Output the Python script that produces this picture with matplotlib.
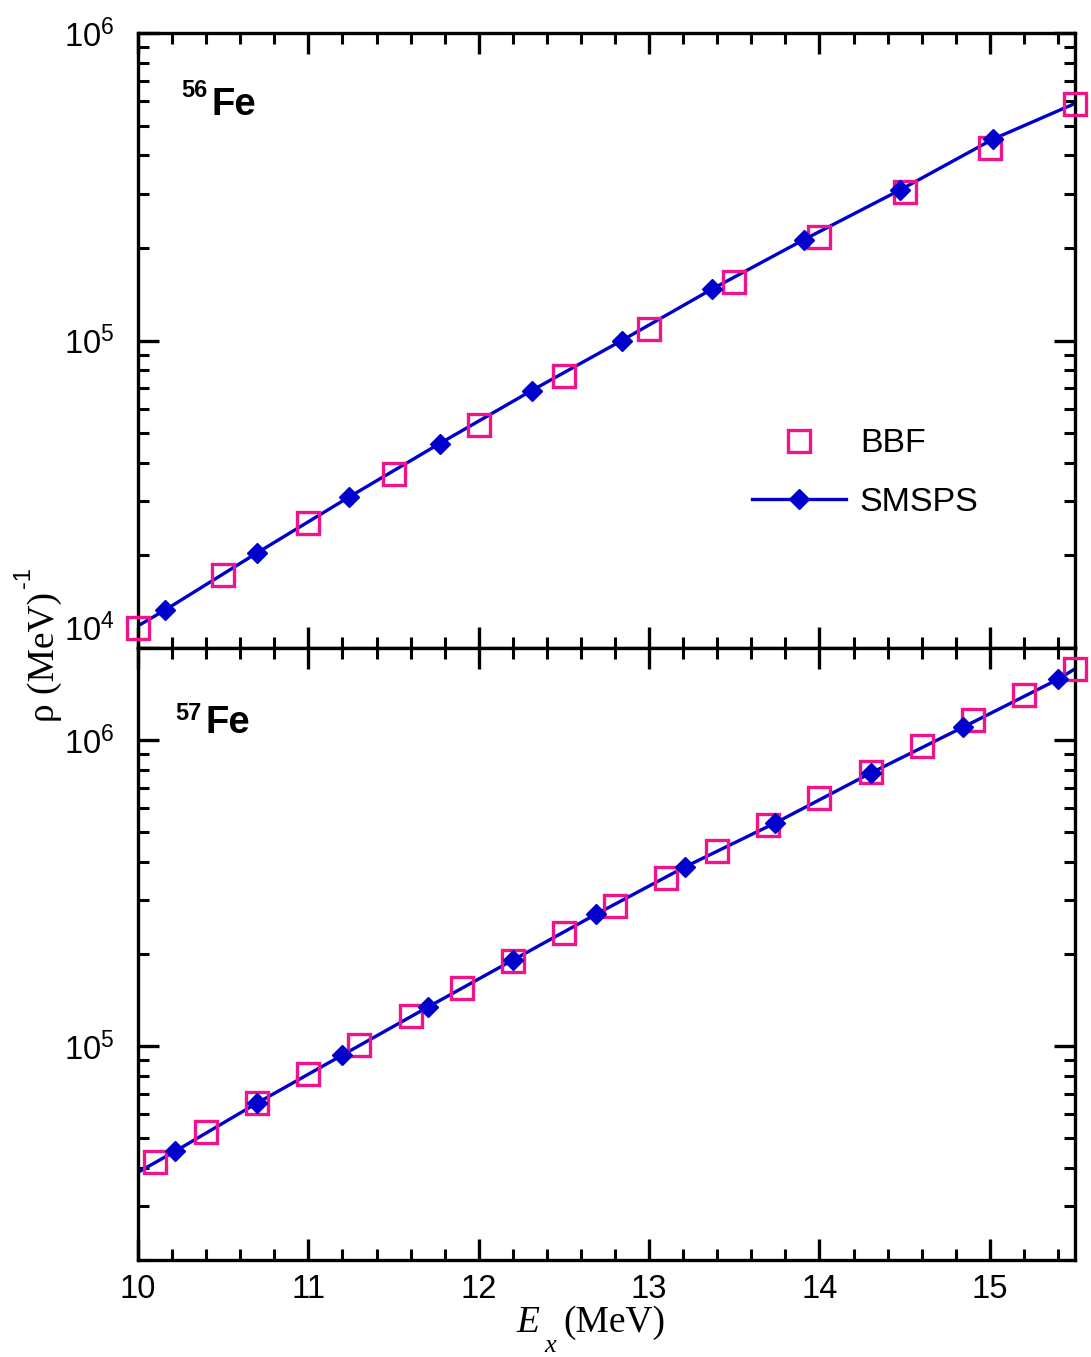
import matplotlib
matplotlib.use('Agg')
import matplotlib.pyplot as plt
from matplotlib.ticker import LogLocator, FuncFormatter, NullFormatter, MultipleLocator
from matplotlib.lines import Line2D
import numpy as np

plt.rcParams['font.family'] = ['Liberation Sans', 'DejaVu Sans']
plt.rcParams['mathtext.fontset'] = 'custom'
plt.rcParams['mathtext.rm'] = 'Liberation Sans'
plt.rcParams['mathtext.it'] = 'Liberation Sans:italic'
plt.rcParams['mathtext.bf'] = 'Liberation Sans:bold'
plt.rcParams['mathtext.default'] = 'rm'

# 56Fe - BBF (squares)
fe56_bbf_x = [10.0, 10.5, 11.0, 11.5, 12.0, 12.5, 13.0, 13.5, 14.0, 14.5, 15.0, 15.5]
fe56_bbf_y = [1.16e4, 1.73e4, 2.55e4, 3.69e4, 5.32e4, 7.64e4, 1.09e5, 1.55e5,
              2.17e5, 3.03e5, 4.22e5, 5.87e5]
# 56Fe - SMSPS (diamonds)
fe56_sm_x = [10.16, 10.70, 11.24, 11.77, 12.31, 12.84, 13.37, 13.91, 14.47, 15.02]
fe56_sm_y = [1.33e4, 2.04e4, 3.10e4, 4.62e4, 6.87e4, 1.00e5, 1.47e5, 2.13e5,
             3.08e5, 4.52e5]
# 56Fe - SMSPS curve end points
fe56_line_start = (10.0, 1.18e4)
fe56_line_end = (15.5, 5.90e5)

# 57Fe - BBF
fe57_bbf_x = [10.1, 10.4, 10.7, 11.0, 11.3, 11.6, 11.9, 12.2, 12.5, 12.8, 13.1,
              13.4, 13.7, 14.0, 14.3, 14.6, 14.9, 15.2, 15.5]
fe57_bbf_y = [4.18e4, 5.24e4, 6.52e4, 8.09e4, 1.01e5, 1.25e5, 1.55e5, 1.90e5,
              2.34e5, 2.87e5, 3.54e5, 4.34e5, 5.27e5, 6.46e5, 7.86e5, 9.56e5,
              1.16e6, 1.40e6, 1.71e6]
# 57Fe - SMSPS
fe57_sm_x = [10.22, 10.70, 11.20, 11.70, 12.20, 12.69, 13.21, 13.74, 14.30, 14.84, 15.40]
fe57_sm_y = [4.54e4, 6.52e4, 9.35e4, 1.34e5, 1.91e5, 2.70e5, 3.85e5, 5.36e5,
             7.80e5, 1.10e6, 1.58e6]
fe57_line_start = (10.0, 3.87e4)
fe57_line_end = (15.5, 1.71e6)

pink = '#F0148C'
blue = '#0000CC'

fig = plt.figure(figsize=(10.91, 13.57), dpi=100)
W, H = 1091, 1357
ax1 = fig.add_axes([138 / W, 1 - 648 / H, 937 / W, 615 / H])
ax2 = fig.add_axes([138 / W, 1 - 1260 / H, 937 / W, 612 / H])


def draw(ax, bx, by, sx, sy, start, end):
    lx = [start[0]] + sx + [end[0]]
    ly = [start[1]] + sy + [end[1]]
    ax.plot(lx, ly, color=blue, lw=2.4, zorder=2)
    ax.plot(bx, by, 's', ms=16, mfc='none', mec=pink, mew=2.4, zorder=3, clip_on=False)
    ax.plot(sx, sy, 'D', ms=10.5, color=blue, zorder=4, clip_on=False)


draw(ax1, fe56_bbf_x, fe56_bbf_y, fe56_sm_x, fe56_sm_y, fe56_line_start, fe56_line_end)
draw(ax2, fe57_bbf_x, fe57_bbf_y, fe57_sm_x, fe57_sm_y, fe57_line_start, fe57_line_end)

fmt = FuncFormatter(lambda v, p: r'$10^{%d}$' % int(round(np.log10(v))))
for ax in (ax1, ax2):
    ax.set_yscale('log')
    ax.set_xlim(10, 15.5)
    ax.xaxis.set_major_locator(MultipleLocator(1))
    ax.xaxis.set_minor_locator(MultipleLocator(0.2))
    ax.yaxis.set_minor_locator(LogLocator(base=10, subs=np.arange(2, 10)))
    ax.yaxis.set_major_formatter(fmt)
    ax.yaxis.set_minor_formatter(NullFormatter())
    ax.tick_params(which='both', direction='in', top=True, right=True,
                   labelsize=23.5)
    ax.tick_params(which='major', length=15, width=2.4)
    ax.tick_params(which='minor', length=8, width=2.2)
    ax.tick_params(axis='y', pad=17)
    ax.tick_params(axis='x', pad=10)
    for s in ax.spines.values():
        s.set_linewidth(2.4)

ax1.set_yticks([1e4, 1e5, 1e6])
ax2.set_yticks([1e5, 1e6])
ax1.set_ylim(1e4, 1e6)
ax2.set_ylim(2e4, 2e6)
ax1.tick_params(labelbottom=False)
# lift the 10^4 label so it sits above the panel join
ax1.yaxis.get_major_ticks()[0].label1.set_verticalalignment('bottom')

# legend
h1 = Line2D([], [], ls='none', marker='s', ms=16, mfc='none', mec=pink, mew=2.4)
h2 = Line2D([], [], color=blue, lw=2.4, marker='D', ms=10.5)
ax1.legend([h1, h2], ['BBF', 'SMSPS'], loc='upper left', bbox_to_anchor=(0.655, 0.357),
           frameon=False, fontsize=24.5, handlelength=2.78, handletextpad=0.4,
           labelspacing=0.8, borderpad=0, borderaxespad=0)

# panel labels
fig.text(181 / W, 1 - 97 / H, '56', fontsize=17, fontweight='bold', va='baseline')
fig.text(211 / W, 1 - 115 / H, 'Fe', fontsize=27.5, fontweight='bold', va='baseline')
fig.text(175 / W, 1 - 720 / H, '57', fontsize=17, fontweight='bold', va='baseline')
fig.text(205 / W, 1 - 733 / H, 'Fe', fontsize=27.5, fontweight='bold', va='baseline')

# y label
fig.text(54 / W, 1 - 722 / H, '\u03c1 (MeV)', fontsize=27, family='Liberation Serif',
         rotation=90, rotation_mode='anchor', ha='left', va='baseline')
fig.text(30 / W, 1 - 588 / H, '-1', fontsize=17, rotation=90,
         rotation_mode='anchor', ha='left', va='baseline')

# x label
fig.text(516 / W, 1 - 1332 / H, 'E', fontsize=27, family='Liberation Serif',
         style='italic', va='baseline')
fig.text(544 / W, 1 - 1352 / H, 'x', fontsize=19, family='Liberation Serif',
         style='italic', va='baseline')
fig.text(563 / W, 1 - 1332 / H, '(MeV)', fontsize=27, family='Liberation Serif',
         va='baseline')

fig.savefig('out.png', dpi=100)
